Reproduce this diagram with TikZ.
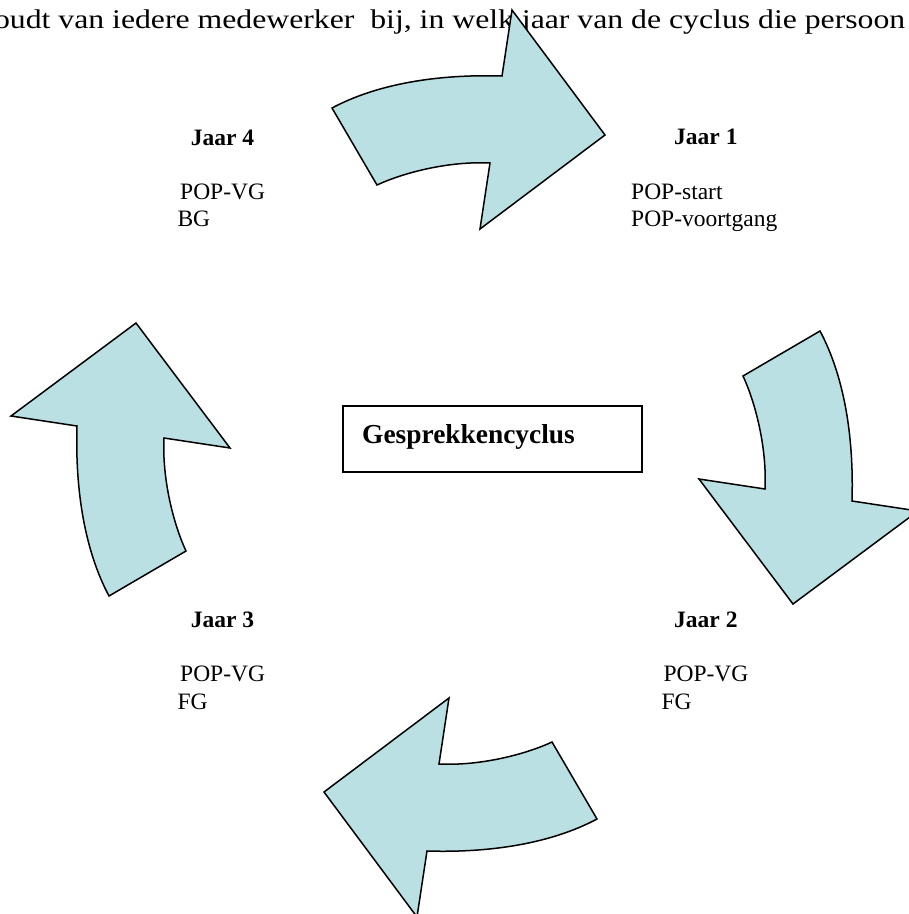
\documentclass[tikz,border=0pt]{standalone}
\usepackage{fontspec}
\usepackage{graphicx}
\setmainfont{Liberation Serif}
\definecolor{arrowfill}{RGB}{187,224,227}
\tikzset{
  cyclearrow/.style={fill=arrowfill, draw=black, line width=1.5pt, line join=miter},
  lbl/.style={inner sep=0pt, anchor=base west, font=\fontsize{23.5}{27}\selectfont},
  lblbold/.style={lbl, font=\fontsize{23.5}{27}\selectfont\bfseries},
  ctr/.style={inner sep=0pt, anchor=base west, font=\fontsize{27.4}{32}\selectfont\bfseries},
  boxstyle/.style={draw=black, line width=1.8pt, inner sep=0pt, anchor=north west, minimum width=299pt, minimum height=66pt}
}
\newcommand{\cyclearrowpath}{%
  (-132.5,355.5) -- (-87.5,278.5)
  .. controls (-59.5,291.5) and (-14.5,302.5) .. (25.5,300.5)
  -- (15.5,234.5) -- (140.5,328.5) -- (47.5,453.5) -- (37.5,387.5)
  .. controls (-27.5,389.5) and (-87.5,379.5) .. cycle}
\begin{document}
\begin{tikzpicture}[x=1pt,y=1pt]
\clip (0,0) rectangle (909,-914);
\fill[white] (0,0) rectangle (909,-914);
% top text (cut by the page edge, as in the reference)
\node (toptext) [inner sep=0pt, anchor=base west, font=\fontsize{27}{30}\selectfont] at (-22,-28.5)
  {\resizebox{927pt}{\height}{houdt van iedere medewerker\ \ bij, in welk jaar van de cyclus die persoon}};
% arrows
\foreach \r in {0,-90,180,90}{
  \begin{scope}[shift={(464.5,-463.5)}, rotate=\r]
    \path[cyclearrow] \cyclearrowpath;
  \end{scope}
}
% centre box
\node (box) [boxstyle] at (342,-405) {};
\node (title) [ctr] at (362,-443.3) {Gesprekkencyclus};
% Jaar 1
\node (j1) [lblbold] at (674,-144.3) {Jaar 1};
\node (j1a) [lbl] at (631,-199.3) {POP-start};
\node (j1b) [lbl] at (631,-226.5) {POP-voortgang};
% Jaar 4
\node (j4) [lblbold] at (190.7,-145) {Jaar 4};
\node (j4a) [lbl] at (180,-199.3) {POP-VG};
\node (j4b) [lbl] at (177.3,-226.5) {BG};
% Jaar 3
\node (j3) [lblbold] at (190.7,-627.3) {Jaar 3};
\node (j3a) [lbl] at (180,-681.7) {POP-VG};
\node (j3b) [lbl] at (177.3,-709) {FG};
% Jaar 2
\node (j2) [lblbold] at (674,-627.3) {Jaar 2};
\node (j2a) [lbl] at (663.3,-681.7) {POP-VG};
\node (j2b) [lbl] at (661.3,-709) {FG};
\end{tikzpicture}
\end{document}
